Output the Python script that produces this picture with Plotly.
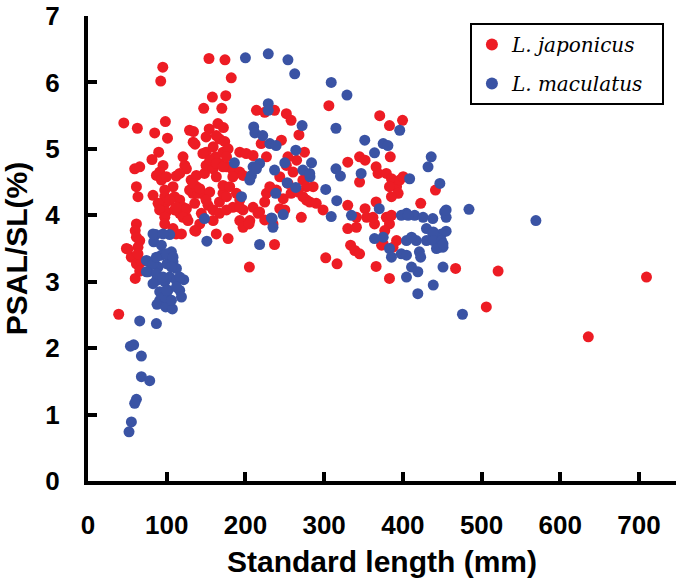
import plotly.graph_objects as go

# Lateolabrax japonicus: standard length (mm) and PSAL/SL ratio (%)
jap_sl = [
    45.5, 62.7, 84.7, 98.3, 101, 89.8, 81.3, 59.3, 65.7, 95.3,
    91.1, 86.9, 93.2, 99.6, 112, 61.5, 63.5, 82.6, 97.5, 99.6,
    95.3, 99.6, 120.7, 123, 131, 133, 135.6, 108, 110, 116.5,
    120.7, 116.5, 125, 89, 91, 61.5, 60, 61.5, 97.5, 97.5,
    135.6, 108, 112, 118.7, 129, 65.7, 63.5, 48.8, 55, 61.5,
    60, 50.8, 67.8, 65.7, 63.5, 39, 92.4, 95,
    153.7, 174, 182, 158, 175, 147, 170, 214, 129, 134,
    154, 165, 172, 150, 167, 136, 133.6, 163, 173.7,
    150, 159, 162, 171.5, 178, 192.8, 201, 209.7, 220, 226.7,
    137.7, 148, 150, 159, 167, 176, 184, 192.8, 197, 184,
    139.8, 137.7, 148, 152.5, 159, 167, 171.5, 171.5, 180, 188.6,
    192.8, 197, 209.7, 218, 224.5, 226.7, 239.4, 110, 125, 144, 167,
    146, 154.6, 163, 171.5, 176, 125, 116.5, 133.6, 142, 154.6,
    150, 163, 176, 184, 176, 192.8, 97.5, 103.8, 112, 120.7,
    127, 142, 159, 205.5, 231, 243.6, 248, 258, 271, 277.5,
    286, 237, 252, 258, 275, 265, 252, 260.5, 192.8, 197, 224.5,
    205, 137, 178, 163, 237, 216, 204.6,
    306, 268, 245.7, 254, 254, 273, 277.5, 267, 273, 281.7,
    290, 298.6, 224.5, 235,
    330, 345, 352, 370.6, 383, 399.6, 384, 366, 368.5, 379,
    385.5, 387.5, 392, 396, 400.4, 383, 394, 385.5, 345, 441.4,
    422.7, 366, 330, 352, 354, 341, 330, 333.6, 364, 379,
    383, 377, 392, 387.5, 362, 341, 375,
    467, 506, 521, 383, 366, 373, 385.5, 339, 345, 316.4,
    302, 243.6, 250, 635.6, 709.5,
]
jap_ratio = [
    5.39, 5.31, 5.24, 5.41, 5.16, 4.95, 4.84, 4.70, 4.73, 4.75,
    4.65, 4.60, 4.53, 4.58, 4.59, 4.43, 4.28, 4.30, 4.28, 4.20,
    4.12, 4.05, 4.88, 4.75, 4.53, 4.33, 4.18, 4.43, 4.28, 4.23,
    4.12, 4.03, 3.97, 4.18, 4.08, 3.87, 3.77, 3.67, 3.97, 3.87,
    3.77, 3.80, 3.72, 3.72, 4.38, 3.62, 3.52, 3.50, 3.37, 3.27,
    3.05, 3.49, 3.30, 3.16, 3.42, 2.51, 6.02, 6.23,
    6.36, 6.34, 6.07, 5.78, 5.80, 5.61, 5.61, 5.58, 5.28, 5.26,
    5.30, 5.38, 5.32, 5.18, 5.15, 5.07, 5.10, 5.20, 5.11,
    4.95, 5.03, 4.88, 4.95, 5.00, 4.95, 4.93, 4.90, 5.08, 4.88,
    4.60, 4.63, 4.75, 4.70, 4.78, 4.73, 4.68, 4.65, 4.60, 4.58,
    4.33, 4.43, 4.30, 4.15, 4.08, 4.20, 4.33, 4.45, 4.43, 4.33,
    4.23, 4.08, 4.12, 4.05, 4.20, 4.33, 4.38, 4.08, 4.10, 4.03, 4.03,
    4.93, 4.83, 4.78, 4.73, 4.88, 4.70, 4.63, 4.48, 4.40, 4.35,
    4.23, 4.58, 4.28, 4.12, 4.08, 4.12, 4.38, 4.23, 4.12, 3.97,
    3.92, 3.87, 3.92, 3.92, 4.43, 4.58, 4.25, 4.33, 3.97, 4.23,
    4.43, 5.58, 5.53, 5.43, 4.95, 4.83, 4.75, 4.65, 3.92, 3.82, 5.55,
    3.22, 3.76, 3.65, 3.72, 3.56, 4.03, 3.87,
    5.65, 5.21, 5.13, 4.88, 4.48, 4.53, 4.43, 4.35, 4.28, 4.20,
    4.18, 4.08, 3.93, 3.87,
    4.80, 4.88, 4.83, 5.50, 5.35, 5.43, 4.88, 4.73, 4.63, 4.63,
    4.55, 4.48, 4.43, 4.53, 4.58, 4.43, 4.33, 4.28, 4.50, 4.38,
    4.18, 4.20, 4.15, 4.10, 3.97, 3.97, 3.80, 3.55, 3.87, 3.97,
    3.87, 3.77, 3.62, 3.52, 3.97, 3.82, 3.57,
    3.20, 2.62, 3.16, 3.05, 3.23, 3.55, 4.00, 3.47, 3.42, 3.27,
    3.36, 4.10, 4.08, 2.17, 3.07,
]

# Lateolabrax maculatus: standard length (mm) and PSAL/SL ratio (%)
mac_sl = [
    65.7, 86.9, 53.9, 58, 67.8, 67.8, 78.4, 61.5, 59.3, 55.1, 52.1,
    86, 83.5, 93.2, 103.8, 106, 93.2, 77.5, 76.3, 89, 100.4,
    108, 112.3, 86.9, 97.5, 103.8, 112.3, 121.6, 116.5, 101.7, 91.1,
    91.1, 87.7, 98.7, 107.2, 97.5, 106,
    82.6, 95.3, 74.2, 82.6, 86.9, 99.6, 108, 106, 116.5, 86.9,
    95.3, 82.6, 99.6, 112.3, 118.7, 74.2,
    148, 151, 218, 234, 235, 200, 229, 229, 229, 210.5,
    212, 222, 231, 239, 186, 209.7, 218, 207.6, 205.5, 237,
    238.5, 195, 272, 264, 214, 250, 284, 273, 282, 253,
    264, 248, 233,
    254, 262.6, 309, 329, 315, 351.6, 364, 375, 381, 396,
    436, 432, 447, 408.6, 347, 315, 320.7, 302, 316, 281.7,
    370, 334.7, 309, 404.6, 415, 425.7, 438, 453, 455, 430,
    438, 449, 455, 364, 375, 383, 404.6, 417, 430, 442.7,
    447, 455, 484, 398, 406.6, 438.6, 438.6, 449, 451, 442.7,
    411, 385.5, 398, 404.6, 421, 422.6, 411, 419, 404.6, 451,
    438.6, 419, 475.7, 569, 451,
]
mac_ratio = [
    2.41, 2.37, 2.03, 2.05, 1.88, 1.57, 1.51, 1.23, 1.17, 0.89, 0.74,
    3.71, 3.60, 3.55, 3.71, 3.45, 3.40, 3.30, 3.15, 3.22, 3.27,
    3.30, 3.20, 3.02, 3.00, 3.07, 3.02, 3.03, 2.87, 2.87, 2.85,
    2.72, 2.66, 2.62, 2.59, 2.77, 2.72,
    3.72, 3.72, 3.32, 3.27, 3.37, 3.42, 3.37, 3.22, 3.07, 3.12,
    3.07, 2.97, 2.87, 2.92, 2.77, 3.15,
    3.95, 3.61, 3.56, 3.95, 3.82, 6.37, 6.43, 5.68, 5.58, 5.33,
    5.24, 5.20, 5.08, 5.05, 4.79, 4.73, 4.78, 4.60, 4.53, 4.68,
    4.33, 4.28, 5.35, 4.98, 4.70, 4.79, 4.79, 4.68, 4.58, 4.49,
    4.42, 4.01, 3.96,
    6.34, 6.13, 6.00, 5.81, 5.31, 5.13, 4.94, 5.08, 5.05, 5.28,
    4.88, 4.73, 4.48, 4.55, 4.63, 4.70, 4.59, 4.39, 4.22, 4.63,
    4.10, 4.00, 3.98, 4.03, 4.00, 3.97, 3.95, 4.05, 3.97, 3.80,
    3.72, 3.72, 3.76, 3.65, 3.67, 3.50, 3.62, 3.62, 3.62, 3.67,
    3.52, 4.08, 4.09, 4.00, 4.00, 3.75, 3.62, 3.62, 3.52, 3.50,
    3.67, 3.37, 3.42, 3.40, 3.45, 3.37, 3.22, 3.15, 3.07, 3.22,
    2.95, 2.82, 2.51, 3.92, 3.57,
]

x_ticks = [0, 100, 200, 300, 400, 500, 600, 700]
y_ticks = [0, 1, 2, 3, 4, 5, 6, 7]

RED = "#ED1C24"
BLUE = "#3A53A4"
TICK_FONT = dict(family="Liberation Sans, Arial", size=26, color="black", weight="bold")
TITLE_FONT = dict(family="Liberation Sans, Arial", size=30, color="black", weight="bold")

fig = go.Figure()
fig.add_trace(go.Scatter(
    x=jap_sl, y=jap_ratio, mode="markers", name="L. japonicus\u00a0\u00a0",
    legendgroup="jap",
    marker=dict(color=RED, size=11, line=dict(width=0)),
))
fig.add_trace(go.Scatter(
    x=mac_sl, y=mac_ratio, mode="markers", name="L. maculatus\u00a0\u00a0",
    legendgroup="mac",
    marker=dict(color=BLUE, size=11, line=dict(width=0)),
))

axis_common = dict(
    showline=True, linewidth=4, linecolor="black",
    ticks="inside", ticklen=9, tickwidth=3.5, tickcolor="black",
    showgrid=False, zeroline=False, tickfont=TICK_FONT, automargin=False,
)

fig.update_layout(
    width=676, height=580,
    margin=dict(l=88, r=0, t=16, b=99),
    paper_bgcolor="white", plot_bgcolor="white",
    xaxis=dict(range=[0, 747], tickvals=x_ticks, ticklabelstandoff=18,
               title=dict(text="Standard length (mm)", font=TITLE_FONT, standoff=13),
               **axis_common),
    yaxis=dict(range=[0, 7], tickvals=y_ticks, ticklabelstandoff=19,
               title=dict(text="PSAL/SL(%)", font=TITLE_FONT, standoff=10),
               **axis_common),
    legend=dict(
        x=0.6495, y=0.985, xanchor="left", yanchor="top",
        bordercolor="black", borderwidth=2, bgcolor="white",
        font=dict(family="DejaVu Serif", size=20, color="black", style="italic"),
        itemsizing="constant", tracegroupgap=10,
    ),
    showlegend=True,
)

fig.write_html("out.html")
